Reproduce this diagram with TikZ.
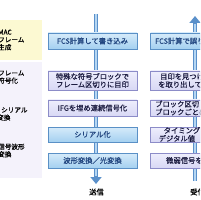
\documentclass[tikz,border=0pt]{standalone}
\usepackage{fontspec}
\newfontfamily\jp[FakeBold=0.6]{Noto Sans CJK JP}
\usetikzlibrary{arrows.meta, positioning, shadows}
\definecolor{panelyellow}{HTML}{FCF9D2}
\definecolor{panellav}{HTML}{F4F2FB}
\definecolor{boxblue}{HTML}{A4D0F0}
\definecolor{boxbluetop}{HTML}{D6EBFA}
\definecolor{boxblueedge}{HTML}{5A90C6}
\definecolor{boxlav}{HTML}{D8D8F5}
\definecolor{boxlavtop}{HTML}{EEEEFC}
\definecolor{boxlavedge}{HTML}{8C8CC8}
\definecolor{pipeblue}{HTML}{5A90CA}
\definecolor{pipelight}{HTML}{B5D6F2}
\definecolor{inkblue}{HTML}{21457F}
\definecolor{inkdark}{HTML}{1C1C40}

\begin{document}
\begin{tikzpicture}[x=1pt, y=-1pt,
  panel/.style={inner sep=0pt, anchor=north west},
  stage/.style={rectangle, draw, line width=0.6pt, inner sep=0pt,
    minimum width=89pt, align=center, font=\jp\fontsize{7.3}{8}\selectfont},
  bluebox/.style={stage, draw=boxblueedge, top color=boxbluetop,
    bottom color=boxblue, text=inkblue,
    drop shadow={shadow xshift=1pt, shadow yshift=-1pt, fill=boxblueedge, opacity=0.7}},
  lavbox/.style={stage, draw=boxlavedge, top color=boxlavtop,
    bottom color=boxlav, text=inkdark,
    drop shadow={shadow xshift=1pt, shadow yshift=-1pt, fill=boxlavedge, opacity=0.7}},
  sidetext/.style={anchor=west, inner sep=0pt, align=left,
    font=\jp\fontsize{6.6}{7.6}\selectfont},
  rtext/.style={anchor=west, inner sep=0pt, align=left,
    font=\jp\fontsize{7.3}{8}\selectfont},
  shaft/.style={line width=4.5pt, pipeblue},
  core/.style={line width=1.6pt, pipelight},
]
  \useasboundingbox (0,0) rectangle (200,200);
  \clip (0,0) rectangle (200,200);

  % layer panels on the left
  \node[panel, fill=panelyellow, minimum width=42pt, minimum height=40pt] (macpanel) at (0,20) {};
  \node[panel, fill=panellav, minimum width=42pt, minimum height=116pt] (phypanel) at (0,62) {};
  \node[sidetext] (mactext) at (-2,40) {MAC\\フレーム\\生成};
  \node[sidetext] (pcstext) at (-2,77) {フレーム\\符号化};
  \node[sidetext] (pmatext) at (-3,114) {\hspace*{4pt}シリアル\\変換};
  \node[sidetext] (pmdtext) at (-2,150.5) {信号波形\\変換};

  % send / receive pipes
  \coordinate (txtop) at (96,14);
  \coordinate (txend) at (96,184);
  \draw[shaft, -{Triangle[width=11pt, length=7pt]}] (txtop) -- (txend);
  \draw[core, shorten >=8pt] (txtop) -- (txend);
  \coordinate (rxbot) at (195,181);
  \coordinate (rxtop) at (195,16);
  \draw[shaft, -{Triangle[width=11pt, length=7pt]}] (rxbot) -- (rxtop);
  \draw[core, shorten >=8pt] (rxbot) -- (rxtop);

  % send side
  \node[bluebox, minimum height=16pt] (fcs) at (92.5,41) {FCS計算して書き込み};
  \node[lavbox, minimum height=19pt] (mark) at (92.5,80.5) {特殊な符号ブロックで\\フレーム区切りに目印};
  \node[lavbox, minimum height=16pt] (ifg) at (92.5,108) {IFGを埋め連続信号化};
  \node[bluebox, minimum height=15pt] (ser) at (92.5,134.5) {シリアル化};
  \node[bluebox, minimum height=15pt] (wave) at (92.5,160.5) {波形変換／光変換};

  % receive side
  \node[bluebox, minimum height=16pt, right=13pt of fcs] (chk) {};
  \node[lavbox, minimum height=19pt, right=13pt of mark] (find) {};
  \node[lavbox, minimum height=16pt, right=13pt of ifg] (split) {};
  \node[lavbox, minimum height=15pt, right=13pt of ser] (clock) {};
  \node[lavbox, minimum height=15pt, right=13pt of wave] (weak) {};
  \node[rtext, text=inkblue] (chktext) at (155,41) {FCS計算で誤り};
  \node[rtext, text=inkdark] (findtext) at (158,80.5) {\hspace*{2pt}目印を見つけ\\を取り出して};
  \node[rtext, text=inkdark] (splittext) at (155,108) {ブロック区切り\\ブロックごとに};
  \node[rtext, text=inkdark] (clocktext) at (158.5,134.5) {\hspace*{5pt}タイミング\\デジタル値};
  \node[rtext, text=inkdark] (weaktext) at (166,160.5) {微弱信号を};

  \node[font=\jp\fontsize{7.3}{8}\selectfont, inner sep=0pt] (txlabel) at (96.5,192) {送信};
  \node[font=\jp\fontsize{7.3}{8}\selectfont, inner sep=0pt, anchor=west] (rxlabel) at (190,192) {受信};
\end{tikzpicture}
\end{document}
